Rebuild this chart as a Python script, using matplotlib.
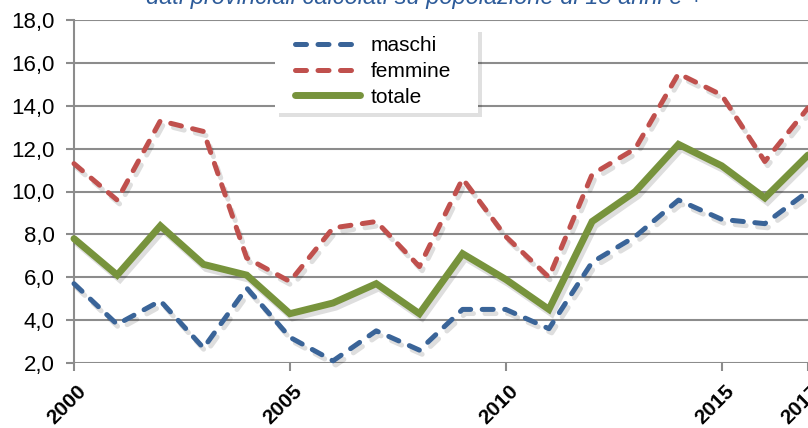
import matplotlib
matplotlib.use("Agg")
import matplotlib.pyplot as plt
import matplotlib.patheffects as pe
import matplotlib.transforms as mtransforms
from matplotlib.patches import Rectangle
from matplotlib.ticker import FuncFormatter

years = list(range(2000, 2018))
maschi = [5.7, 3.8, 4.9, 2.7, 5.5, 3.2, 2.1, 3.5, 2.6, 4.5, 4.5, 3.6, 6.7, 7.9, 9.6, 8.7, 8.5, 10.0]
femmine = [11.3, 9.6, 13.3, 12.8, 6.9, 5.8, 8.3, 8.6, 6.5, 10.6, 7.9, 6.0, 10.8, 12.0, 15.5, 14.5, 11.4, 13.9]
totale = [7.8, 6.1, 8.4, 6.6, 6.1, 4.3, 4.8, 5.7, 4.3, 7.1, 5.9, 4.5, 8.6, 10.0, 12.2, 11.2, 9.7, 11.7]
series_labels = ["maschi", "femmine", "totale"]
xtick_years = [2000, 2005, 2010, 2015, 2017]
title = "dati provinciali calcolati su popolazione di 15 anni e +"

plt.rcParams['font.family'] = ['Liberation Sans', 'DejaVu Sans']

fig = plt.figure(figsize=(8.08, 4.28), dpi=100)
ax = fig.add_axes([74/808, 1-363/428, (808-74)/808, (363-20)/428])

shadow = [pe.SimpleLineShadow(offset=(2, -3), alpha=0.13, shadow_color='black'), pe.Normal()]

ax.plot(years, maschi, color='#3A6498', lw=3.6, dashes=(2.2, 2.3), dash_capstyle='round',
        label=series_labels[0], path_effects=shadow, zorder=3, clip_on=False)
ax.plot(years, femmine, color='#C0504D', lw=3.6, dashes=(2.2, 2.3), dash_capstyle='round',
        label=series_labels[1], path_effects=shadow, zorder=3, clip_on=False)
ax.plot(years, totale, color='#77933C', lw=5.0, solid_capstyle='round', solid_joinstyle='miter',
        label=series_labels[2], path_effects=shadow, zorder=4, clip_on=False)

ax.set_xlim(2000, 2017)
ax.set_ylim(2, 18)
ax.set_yticks(range(2, 19, 2))
ax.yaxis.set_major_formatter(FuncFormatter(lambda v, p: f"{v:.1f}".replace('.', ',')))
ax.set_xticks(xtick_years)
ax.set_xticklabels([str(y) for y in xtick_years], rotation=45, ha='right', va='top',
                   fontweight='bold', fontsize=15, rotation_mode='anchor')

ax.grid(axis='y', color='#8c8c8c', lw=1.5)
ax.set_axisbelow(True)
for s in ['top', 'right', 'bottom']:
    ax.spines[s].set_visible(False)
ax.spines['left'].set_color('#8c8c8c')
ax.spines['left'].set_linewidth(1.5)
ax.tick_params(axis='y', length=6, width=1.5, color='#8c8c8c', labelsize=16, pad=8)
ax.tick_params(axis='x', length=6, width=1.5, color='#8c8c8c', pad=7)
for lab in ax.get_xticklabels():
    lab.set_transform(lab.get_transform() + mtransforms.ScaledTranslation(3/100, 0, fig.dpi_scale_trans))

# legend box with soft shadow
x0, x1 = (275-74)/734, (478-74)/734
y0, y1 = (363-113)/343, (363-28)/343
box = Rectangle((x0, y0), x1-x0, y1-y0, transform=ax.transAxes, facecolor='white',
                edgecolor='none', zorder=5,
                path_effects=[pe.SimplePatchShadow(offset=(3, -3), shadow_rgbFace='black', alpha=0.12),
                              pe.Normal()])
ax.add_patch(box)

leg = ax.legend(loc='upper left', bbox_to_anchor=((295-74)/734, (363-36)/343), frameon=False,
                fontsize=15, handlelength=3.1, handletextpad=0.55, labelspacing=0.33,
                borderpad=0, borderaxespad=0)
leg.set_zorder(6)
for h in leg.get_lines():
    h.set_path_effects([])

fig.text(424/808, 1-4/428, title, ha='center', va='baseline', fontsize=17, style='italic',
         color='#2E5C9A')

fig.savefig('out.png', dpi=100)
